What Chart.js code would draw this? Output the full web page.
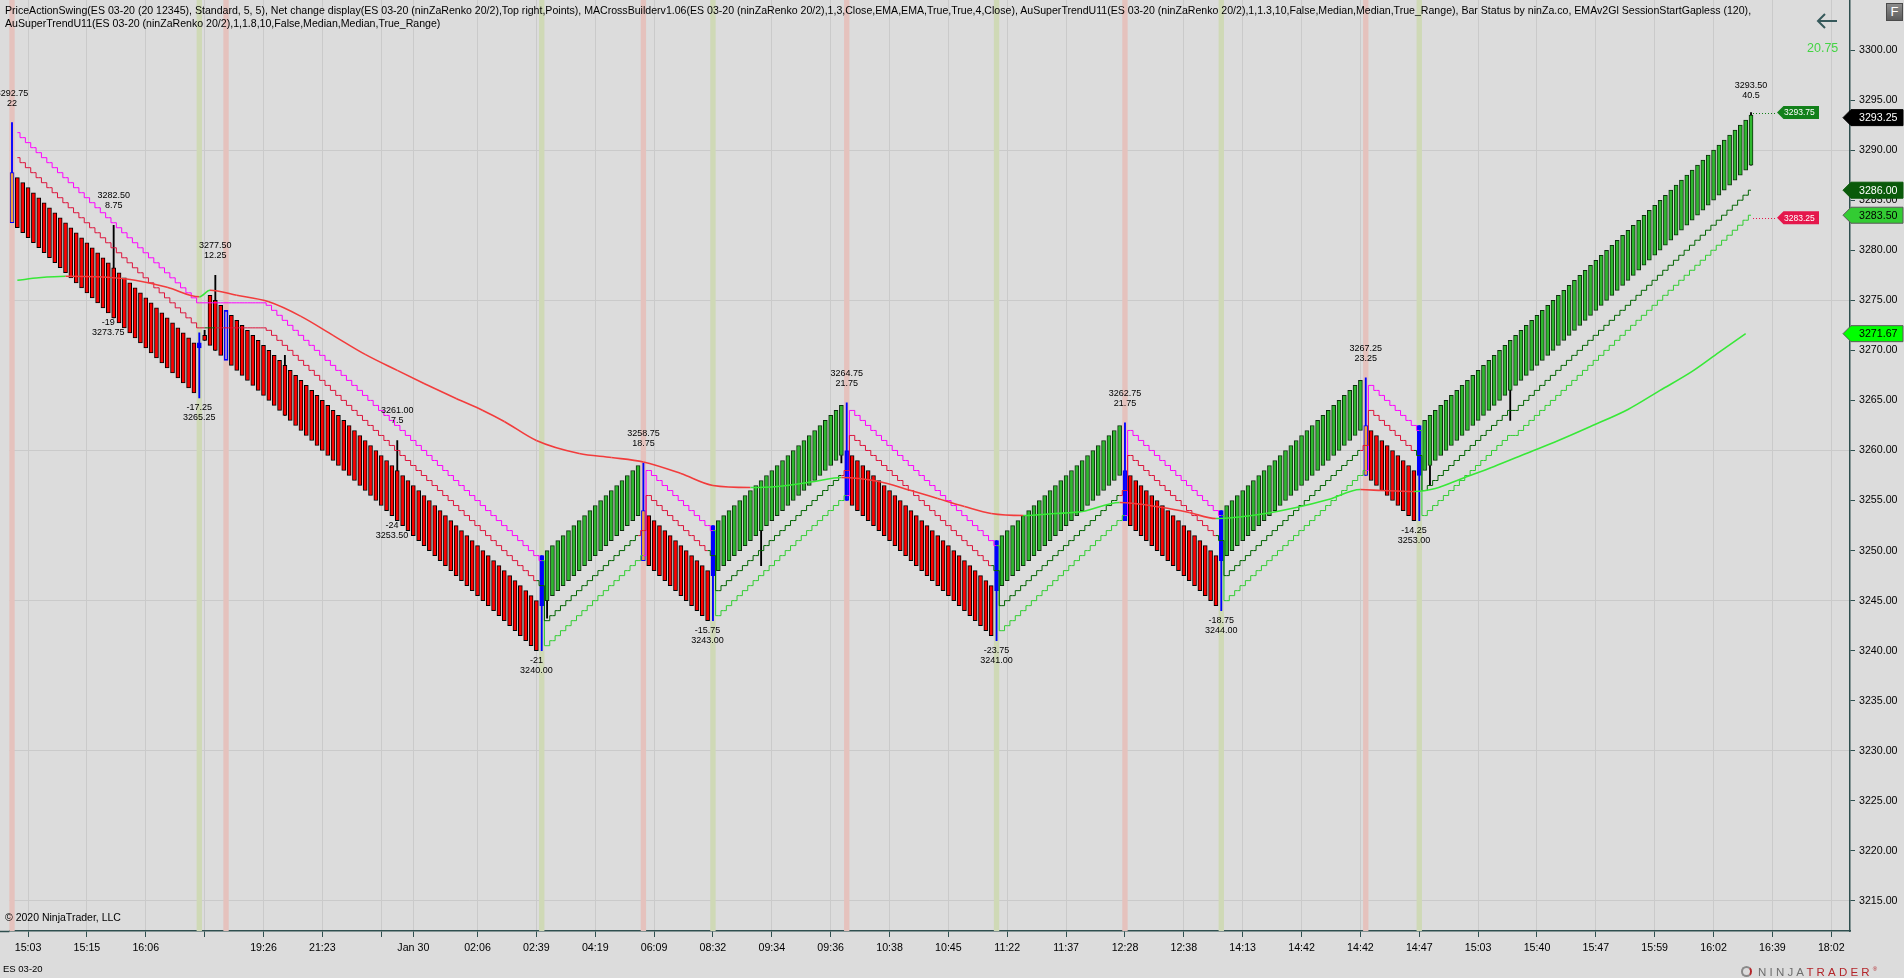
<!DOCTYPE html>
<html lang="en">
<head>
<meta charset="utf-8">
<title>ES 03-20 ninZaRenko 20/2</title>
<script src="https://cdn.jsdelivr.net/npm/chart.js@4.4.1/dist/chart.umd.min.js"></script>
<style>
  html, body { margin: 0; padding: 0; background: #dcdcdc; overflow: hidden; }
  #wrap { position: relative; width: 1904px; height: 978px; font-family: "Liberation Sans", Arial, sans-serif; color: #000; }
  #chart { position: absolute; left: 0; top: 0; }
  .t { position: absolute; white-space: nowrap; }
  #hdr { left: 5px; top: 4px; font-size: 10.58px; line-height: 13px; }
  #copy { left: 5px; top: 911px; font-size: 10.5px; line-height: 13px; }
  #sym { left: 3px; top: 963px; font-size: 9.5px; line-height: 12px; }
  #chg { left: 1807px; top: 41px; font-size: 12.5px; line-height: 15px; color: #44d444; }
  #fbtn { left: 1886px; top: 3px; width: 15px; height: 16px; border: 1px solid #4a4a4a;
          background: linear-gradient(#8c8c8c, #5c5c5c); color: #fff; font-size: 13px;
          line-height: 16px; text-align: center; }
  #logo { left: 1741px; top: 962px; font-size: 11.5px; line-height: 14px; letter-spacing: 3.2px; }
  #logo .ico { display: inline-block; width: 11px; height: 11px; border-radius: 50%;
               border: 2px solid #8a8a8a; border-right-color: #b3262b; box-sizing: border-box;
               vertical-align: -1px; margin-right: 6px; }
  #logo .n { color: #6e6e6e; }
  #logo .r { color: #b3262b; }
  #logo sup { font-size: 6px; letter-spacing: 0; }
</style>
</head>
<body>
<div id="wrap">
  <canvas id="chart" width="1904" height="978"></canvas>
  <div class="t" id="hdr">PriceActionSwing(ES 03-20 (20 12345), Standard, 5, 5), Net change display(ES 03-20 (ninZaRenko 20/2),Top right,Points), MACrossBuilderv1.06(ES 03-20 (ninZaRenko 20/2),1,3,Close,EMA,EMA,True,True,4,Close), AuSuperTrendU11(ES 03-20 (ninZaRenko 20/2),1,1.3,10,False,Median,Median,True_Range), Bar Status by ninZa.co, EMAv2Gl SessionStartGapless (120),<br>AuSuperTrendU11(ES 03-20 (ninZaRenko 20/2),1,1.8,10,False,Median,Median,True_Range)</div>
  <div class="t" id="copy">© 2020 NinjaTrader, LLC</div>
  <div class="t" id="sym">ES 03-20</div>
  <div class="t" id="chg">20.75</div>
  <div class="t" id="fbtn">F</div>
  <div class="t" id="logo"><span class="ico"></span><span class="n">NINJA</span><span class="r">TRADER</span><sup class="r">®</sup></div>
</div>
<script>
// renko bricks, one entry per bar (body top / body bottom)
const brickHigh = [3287.75,
  3287.25,3286.75,3286.25,3285.75,3285.25,3284.75,3284.25,3283.75,3283.25,3282.75,
  3282.25,3281.75,3281.25,3280.75,3280.25,3279.75,3279.25,3278.75,3278.25,3277.75,
  3277.25,3276.75,3276.25,3275.75,3275.25,3274.75,3274.25,3273.75,3273.25,3272.75,
  3272.25,3271.75,3271.25,3270.75,
  3270.75,3271.5,3275.5,3275,3274.5,3274,
  3273.5,3273,3272.5,3272,3271.5,3271,3270.5,3270,3269.5,3269,
  3268.5,3268,3267.5,3267,3266.5,3266,3265.5,3265,3264.5,3264,
  3263.5,3263,3262.5,3262,3261.5,3261,3260.5,3260,3259.5,3259,
  3258.5,3258,3257.5,3257,3256.5,3256,3255.5,3255,3254.5,3254,
  3253.5,3253,3252.5,3252,3251.5,3251,3250.5,3250,3249.5,3249,
  3248.5,3248,3247.5,3247,3246.5,3246,3245.5,3245,
  3249.5,
  3250,3250.5,3251,3251.5,3252,3252.5,3253,3253.5,3254,3254.5,
  3255,3255.5,3256,3256.5,3257,3257.5,3258,3258.5,
  3254,
  3253.5,3253,3252.5,3252,3251.5,3251,3250.5,3250,3249.5,3249,3248.5,3248,
  3252.5,
  3253,3253.5,3254,3254.5,3255,3255.5,3256,3256.5,3257,3257.5,
  3258,3258.5,3259,3259.5,3260,3260.5,3261,3261.5,3262,3262.5,
  3263,3263.5,3264,3264.5,
  3260,
  3259.5,3259,3258.5,3258,3257.5,3257,3256.5,3256,3255.5,3255,
  3254.5,3254,3253.5,3253,3252.5,3252,3251.5,3251,3250.5,3250,
  3249.5,3249,3248.5,3248,3247.5,3247,3246.5,
  3251,
  3251.5,3252,3252.5,3253,3253.5,3254,3254.5,3255,3255.5,3256,
  3256.5,3257,3257.5,3258,3258.5,3259,3259.5,3260,3260.5,3261,
  3261.5,3262,3262.5,
  3258,
  3257.5,3257,3256.5,3256,3255.5,3255,3254.5,3254,3253.5,3253,
  3252.5,3252,3251.5,3251,3250.5,3250,3249.5,
  3254,
  3254.5,3255,3255.5,3256,3256.5,3257,3257.5,3258,3258.5,3259,
  3259.5,3260,3260.5,3261,3261.5,3262,3262.5,3263,3263.5,3264,
  3264.5,3265,3265.5,3266,3266.5,3267,
  3262.5,
  3262,3261.5,3261,3260.5,3260,3259.5,3259,3258.5,3258,
  3262.5,
  3263,3263.5,3264,3264.5,3265,3265.5,3266,3266.5,3267,3267.5,
  3268,3268.5,3269,3269.5,3270,3270.5,3271,3271.5,3272,3272.5,
  3273,3273.5,3274,3274.5,3275,3275.5,3276,3276.5,3277,3277.5,
  3278,3278.5,3279,3279.5,3280,3280.5,3281,3281.5,3282,3282.5,
  3283,3283.5,3284,3284.5,3285,3285.5,3286,3286.5,3287,3287.5,
  3288,3288.5,3289,3289.5,3290,3290.5,3291,3291.5,3292,3292.5,
  3293,3293.5];

const brickLow = [3282.75,
  3282.25,3281.75,3281.25,3280.75,3280.25,3279.75,3279.25,3278.75,3278.25,3277.75,
  3277.25,3276.75,3276.25,3275.75,3275.25,3274.75,3274.25,3273.75,3273.25,3272.75,
  3272.25,3271.75,3271.25,3270.75,3270.25,3269.75,3269.25,3268.75,3268.25,3267.75,
  3267.25,3266.75,3266.25,3265.75,
  3270.25,3271,3270.5,3270,3269.5,3269,
  3268.5,3268,3267.5,3267,3266.5,3266,3265.5,3265,3264.5,3264,
  3263.5,3263,3262.5,3262,3261.5,3261,3260.5,3260,3259.5,3259,
  3258.5,3258,3257.5,3257,3256.5,3256,3255.5,3255,3254.5,3254,
  3253.5,3253,3252.5,3252,3251.5,3251,3250.5,3250,3249.5,3249,
  3248.5,3248,3247.5,3247,3246.5,3246,3245.5,3245,3244.5,3244,
  3243.5,3243,3242.5,3242,3241.5,3241,3240.5,3240,
  3244.5,
  3245,3245.5,3246,3246.5,3247,3247.5,3248,3248.5,3249,3249.5,
  3250,3250.5,3251,3251.5,3252,3252.5,3253,3253.5,
  3249,
  3248.5,3248,3247.5,3247,3246.5,3246,3245.5,3245,3244.5,3244,3243.5,3243,
  3247.5,
  3248,3248.5,3249,3249.5,3250,3250.5,3251,3251.5,3252,3252.5,
  3253,3253.5,3254,3254.5,3255,3255.5,3256,3256.5,3257,3257.5,
  3258,3258.5,3259,3259.5,
  3255,
  3254.5,3254,3253.5,3253,3252.5,3252,3251.5,3251,3250.5,3250,
  3249.5,3249,3248.5,3248,3247.5,3247,3246.5,3246,3245.5,3245,
  3244.5,3244,3243.5,3243,3242.5,3242,3241.5,
  3246,
  3246.5,3247,3247.5,3248,3248.5,3249,3249.5,3250,3250.5,3251,
  3251.5,3252,3252.5,3253,3253.5,3254,3254.5,3255,3255.5,3256,
  3256.5,3257,3257.5,
  3253,
  3252.5,3252,3251.5,3251,3250.5,3250,3249.5,3249,3248.5,3248,
  3247.5,3247,3246.5,3246,3245.5,3245,3244.5,
  3249,
  3249.5,3250,3250.5,3251,3251.5,3252,3252.5,3253,3253.5,3254,
  3254.5,3255,3255.5,3256,3256.5,3257,3257.5,3258,3258.5,3259,
  3259.5,3260,3260.5,3261,3261.5,3262,
  3257.5,
  3257,3256.5,3256,3255.5,3255,3254.5,3254,3253.5,3253,
  3257.5,
  3258,3258.5,3259,3259.5,3260,3260.5,3261,3261.5,3262,3262.5,
  3263,3263.5,3264,3264.5,3265,3265.5,3266,3266.5,3267,3267.5,
  3268,3268.5,3269,3269.5,3270,3270.5,3271,3271.5,3272,3272.5,
  3273,3273.5,3274,3274.5,3275,3275.5,3276,3276.5,3277,3277.5,
  3278,3278.5,3279,3279.5,3280,3280.5,3281,3281.5,3282,3282.5,
  3283,3283.5,3284,3284.5,3285,3285.5,3286,3286.5,3287,3287.5,
  3288,3288.5];

// wicks that stick out of the bodies
const wickIdx  = [0, 19, 35, 36, 38, 51, 72, 99, 100, 118, 131, 140, 155, 156, 184, 208, 226, 253, 263, 265, 280, 325];
const wickLow  = [3282.75, 3273.25, 3265.25, 3271, 3270, 3263.5, 3253, 3240, 3243.25, 3249, 3243, 3248.5, 3258.75, 3255, 3241, 3253, 3244, 3257.5, 3253, 3256.5, 3263, 3288.5];
const wickHigh = [3292.75, 3282.5, 3271.75, 3272, 3277.5, 3269.5, 3261, 3249.5, 3245, 3258.75, 3252.5, 3252, 3259.5, 3264.75, 3251, 3262.75, 3254, 3267.25, 3262.5, 3258.5, 3266, 3293.75];

// bar status signal bars
const signalHighIdx = [0, 40, 118, 156, 208, 253];
const signalLowIdx  = [35, 99, 131, 184, 226, 263];
const orangeIdx     = [0, 118, 253];

// AuSuperTrendU11 1.3 (fast) and 1.8 (slow)
const stFast = [null,
  3289.25,3288.75,3288.25,3287.75,3287.25,3286.75,3286.25,3285.75,3285.25,3284.75,
  3284.25,3283.75,3283.25,3282.75,3282.25,3281.75,3281.25,3280.75,3280.25,3279.75,
  3279.25,3278.75,3278.25,3277.75,3277.25,3276.75,3276.25,3275.75,3275.25,3274.75,
  3274.25,3273.75,3273.25,3272.75,
  3272.25,3272.25,3272.25,3272.25,3272.25,3272.25,3272.25,3272.25,3272.25,3272.25,
  3272.25,3272.25,3272.25,
  3272,3271.5,3271,3270.5,3270,3269.5,3269,3268.5,3268,3267.5,
  3267,3266.5,3266,3265.5,3265,3264.5,3264,3263.5,3263,3262.5,
  3262,3261.5,3261,3260.5,3260,3259.5,3259,3258.5,3258,3257.5,
  3257,3256.5,3256,3255.5,3255,3254.5,3254,3253.5,3253,3252.5,
  3252,3251.5,3251,3250.5,3250,3249.5,3249,3248.5,3248,3247.5,
  3247,
  3246.5,
  3243,3243.5,3244,3244.5,3245,3245.5,3246,3246.5,3247,3247.5,
  3248,3248.5,3249,3249.5,3250,3250.5,3251,3251.5,
  3252,
  3255.5,3255,3254.5,3254,3253.5,3253,3252.5,3252,3251.5,3251,3250.5,3250,
  3249.5,
  3246,3246.5,3247,3247.5,3248,3248.5,3249,3249.5,3250,3250.5,
  3251,3251.5,3252,3252.5,3253,3253.5,3254,3254.5,3255,3255.5,
  3256,3256.5,3257,3257.5,
  3258,
  3261.5,3261,3260.5,3260,3259.5,3259,3258.5,3258,3257.5,3257,
  3256.5,3256,3255.5,3255,3254.5,3254,3253.5,3253,3252.5,3252,
  3251.5,3251,3250.5,3250,3249.5,3249,3248.5,
  3248,
  3244.5,3245,3245.5,3246,3246.5,3247,3247.5,3248,3248.5,3249,
  3249.5,3250,3250.5,3251,3251.5,3252,3252.5,3253,3253.5,3254,
  3254.5,3255,3255.5,
  3256,
  3259.5,3259,3258.5,3258,3257.5,3257,3256.5,3256,3255.5,3255,
  3254.5,3254,3253.5,3253,3252.5,3252,3251.5,
  3251,
  3247.5,3248,3248.5,3249,3249.5,3250,3250.5,3251,3251.5,3252,
  3252.5,3253,3253.5,3254,3254.5,3255,3255.5,3256,3256.5,3257,
  3257.5,3258,3258.5,3259,3259.5,3260,
  3260.5,
  3264,3263.5,3263,3262.5,3262,3261.5,3261,3260.5,3260,
  3259.5,
  3256,3256.5,3257,3257.5,3258,3258.5,3259,3259.5,3260,3260.5,
  3261,3261.5,3262,3262.5,3263,3263.5,3264,3264,3264.5,3265,
  3265.5,3266,3266.5,3267,3267.5,3268,3268.5,3269,3269.5,3270,
  3270.5,3271,3271.5,3272,3272.5,3273,3273.5,3274,3274.5,3275,
  3275.5,3276,3276.5,3277,3277.5,3278,3278.5,3279,3279.5,3280,
  3280.5,3281,3281.5,3282,3282.5,3283,3283.5,3284,3284.5,3285,
  3285.5,3286];

const stSlow = [null,
  3291.75,3291.25,3290.75,3290.25,3289.75,3289.25,3288.75,3288.25,3287.75,3287.25,
  3286.75,3286.25,3285.75,3285.25,3284.75,3284.25,3283.75,3283.25,3282.75,3282.25,
  3281.75,3281.25,3280.75,3280.25,3279.75,3279.25,3278.75,3278.25,3277.75,3277.25,
  3276.75,3276.25,3275.75,3275.25,
  3274.75,3274.75,3274.75,3274.75,3274.75,3274.75,3274.75,3274.75,3274.75,3274.75,
  3274.75,3274.75,3274.75,
  3274.5,3274,3273.5,3273,3272.5,3272,3271.5,3271,3270.5,3270,
  3269.5,3269,3268.5,3268,3267.5,3267,3266.5,3266,3265.5,3265,
  3264.5,3264,3263.5,3263,3262.5,3262,3261.5,3261,3260.5,3260,
  3259.5,3259,3258.5,3258,3257.5,3257,3256.5,3256,3255.5,3255,
  3254.5,3254,3253.5,3253,3252.5,3252,3251.5,3251,3250.5,3250,
  3249.5,
  3249,
  3240.5,3241,3241.5,3242,3242.5,3243,3243.5,3244,3244.5,3245,
  3245.5,3246,3246.5,3247,3247.5,3248,3248.5,3249,
  3249.5,
  3258,3257.5,3257,3256.5,3256,3255.5,3255,3254.5,3254,3253.5,3253,3252.5,
  3252,
  3243.5,3244,3244.5,3245,3245.5,3246,3246.5,3247,3247.5,3248,
  3248.5,3249,3249.5,3250,3250.5,3251,3251.5,3252,3252.5,3253,
  3253.5,3254,3254.5,3255,
  3255.5,
  3264,3263.5,3263,3262.5,3262,3261.5,3261,3260.5,3260,3259.5,
  3259,3258.5,3258,3257.5,3257,3256.5,3256,3255.5,3255,3254.5,
  3254,3253.5,3253,3252.5,3252,3251.5,3251,
  3250.5,
  3242,3242.5,3243,3243.5,3244,3244.5,3245,3245.5,3246,3246.5,
  3247,3247.5,3248,3248.5,3249,3249.5,3250,3250.5,3251,3251.5,
  3252,3252.5,3253,
  3253.5,
  3262,3261.5,3261,3260.5,3260,3259.5,3259,3258.5,3258,3257.5,
  3257,3256.5,3256,3255.5,3255,3254.5,3254,
  3253.5,
  3245,3245.5,3246,3246.5,3247,3247.5,3248,3248.5,3249,3249.5,
  3250,3250.5,3251,3251.5,3252,3252.5,3253,3253.5,3254,3254.5,
  3255,3255.5,3256,3256.5,3257,3257.5,
  3258,
  3266.5,3266,3265.5,3265,3264.5,3264,3263.5,3263,3262.5,
  3262,
  3253.5,3254,3254.5,3255,3255.5,3256,3256.5,3257,3257.5,3258,
  3258.5,3259,3259.5,3260,3260.5,3261,3261.5,3261.5,3262,3262.5,
  3263,3263.5,3264,3264.5,3265,3265.5,3266,3266.5,3267,3267.5,
  3268,3268.5,3269,3269.5,3270,3270.5,3271,3271.5,3272,3272.5,
  3273,3273.5,3274,3274.5,3275,3275.5,3276,3276.5,3277,3277.5,
  3278,3278.5,3279,3279.5,3280,3280.5,3281,3281.5,3282,3282.5,
  3283,3283.5];

// EMAv2Gl SessionStartGapless (120), read at these bars
const emaIdx = [1,5,10,16,23,29,35,37,42,48,54,60,66,72,77,83,88,92,98,106,
  112,118,125,131,138,143,150,155,162,168,173,178,183,189,195,200,207,215,220,225,
  233,240,246,252,256,262,266,271,277,283,289,295,302,308,314,319,324];
const emaVal = [3277.0,3277.25,3277.4,3277.35,3277.0,3276.3,3275.35,3276.0,3275.5,3274.85,
  3273.4,3271.5,3269.6,3268.0,3266.7,3265.2,3264.0,3262.9,3261.0,3259.7,
  3259.3,3258.85,3257.7,3256.5,3256.3,3256.4,3256.9,3257.3,3256.9,3256.0,
  3255.2,3254.4,3253.7,3253.5,3253.7,3253.9,3254.8,3254.3,3253.8,3253.2,
  3253.6,3254.3,3255.1,3256.1,3256.0,3255.9,3256.2,3257.2,3258.4,3259.7,
  3261.0,3262.4,3264.1,3266.0,3267.9,3269.8,3271.67];

// PriceActionSwing labels
const swingHighIdx   = [0, 19, 38, 72, 118, 156, 208, 253, 325];
const swingHighPrice = [3292.75, 3282.50, 3277.50, 3261.00, 3258.75, 3264.75, 3262.75, 3267.25, 3293.50];
const swingHighSize  = [22, 8.75, 12.25, 7.5, 18.75, 21.75, 21.75, 23.25, 40.5];
const swingLowIdx    = [18, 35, 71, 98, 130, 184, 226, 262];
const swingLowPrice  = [3273.75, 3265.25, 3253.50, 3240.00, 3243.00, 3241.00, 3244.00, 3253.00];
const swingLowSize   = [-19, -17.25, -24, -21, -15.75, -23.75, -18.75, -14.25];

// axis
const slotCount = 344;
const xTickIdx = [3, 14, 25, 47, 58, 75, 87, 98, 109, 120, 131, 142, 153, 164, 175,
  186, 197, 208, 219, 230, 241, 252, 263, 274, 285, 296, 307, 318, 329, 340];
const xTickText = ['15:03','15:15','16:06','19:26','21:23','Jan 30','02:06','02:39','04:19','06:09','08:32','09:34','09:36','10:38','10:45',
  '11:22','11:37','12:28','12:38','14:13','14:42','14:42','14:47','15:03','15:40','15:47','15:59','16:02','16:39','18:02'];
const xGridOnly = [36, 69];
const yTickVals = [3215,3220,3225,3230,3235,3240,3245,3250,3255,3260,3265,3270,3275,3280,3285,3290,3295,3300];

// price tags
const axisTagVal  = [3293.25, 3286.00, 3283.50, 3271.67];
const rightTagVal = [3293.75, 3283.25];

const FONT = '"Liberation Sans", Arial, sans-serif';
const categories = Array.from({length: slotCount}, (_, i) => {
  const k = xTickIdx.indexOf(i);
  return k >= 0 ? xTickText[k] : '';
});
const gridIdx = xTickIdx.concat(xGridOnly);

// category scale reads data by position, so spread the sparse lists over the bars
const wickData = brickHigh.map(() => null);
wickIdx.forEach((i, k) => { wickData[i] = [wickLow[k], wickHigh[k]]; });
const emaData = brickHigh.map(() => null);
emaIdx.forEach((i, k) => { emaData[i] = emaVal[k]; });

const mid = i => (brickHigh[i] + brickLow[i]) / 2;
const isDown = i => stSlow[i] !== null && stSlow[i] > mid(i);
const isSignal = i => signalLowIdx.includes(i) || signalHighIdx.includes(i);
const emaFalling = i => { const k = emaIdx.indexOf(i); return k > 0 && emaVal[k] < emaVal[k - 1]; };

const barFill = brickHigh.map((h, i) => {
  if (signalLowIdx.includes(i)) return '#0000ff';
  if (signalHighIdx.includes(i)) return orangeIdx.includes(i) ? '#f0a23c' : 'rgba(0,0,0,0)';
  return isDown(i) ? '#ff0000' : '#2fb82f';
});
const barEdge = brickHigh.map((h, i) => {
  if (isSignal(i)) return '#0000ff';
  return isDown(i) ? '#000000' : '#0c2e0c';
});

function drawTag(ctx, tipX, rightX, cy, h, fill, edge, text, color, font, textX) {
  ctx.beginPath();
  ctx.moveTo(tipX, cy);
  ctx.lineTo(tipX + h / 2, cy - h / 2);
  ctx.lineTo(rightX, cy - h / 2);
  ctx.lineTo(rightX, cy + h / 2);
  ctx.lineTo(tipX + h / 2, cy + h / 2);
  ctx.closePath();
  ctx.fillStyle = fill;
  ctx.fill();
  if (edge) { ctx.strokeStyle = edge; ctx.lineWidth = 1; ctx.stroke(); }
  ctx.fillStyle = color;
  ctx.font = font;
  ctx.textAlign = 'left';
  ctx.textBaseline = 'middle';
  ctx.fillText(text, textX, cy + 0.5);
}

const overlay = {
  id: 'overlay',
  beforeDraw(chart) {
    const ctx = chart.ctx;
    ctx.save();
    ctx.fillStyle = '#dcdcdc';
    ctx.fillRect(0, 0, chart.width, chart.height);
    ctx.restore();
  },
  beforeDatasetsDraw(chart) {
    const {ctx, chartArea: a, scales: {x}} = chart;
    const w = x.width / slotCount;
    ctx.save();
    ctx.fillStyle = '#e5c2bd';
    signalHighIdx.forEach(i => ctx.fillRect(x.getPixelForValue(i) - w / 2, a.top, w, a.bottom - a.top));
    ctx.fillStyle = '#cfd9b6';
    signalLowIdx.forEach(i => ctx.fillRect(x.getPixelForValue(i) - w / 2, a.top, w, a.bottom - a.top));
    ctx.restore();
  },
  afterDatasetsDraw(chart) {
    const {ctx, scales: {x, y}} = chart;
    ctx.save();
    ctx.font = '9px ' + FONT;
    ctx.fillStyle = '#000';
    ctx.textAlign = 'center';
    ctx.textBaseline = 'middle';
    swingHighIdx.forEach((i, k) => {
      const px = x.getPixelForValue(i), py = y.getPixelForValue(swingHighPrice[k]);
      ctx.fillText(swingHighPrice[k].toFixed(2), px, py - 29.5);
      ctx.fillText(String(swingHighSize[k]), px, py - 19.5);
    });
    swingLowIdx.forEach((i, k) => {
      const px = x.getPixelForValue(i), py = y.getPixelForValue(swingLowPrice[k]);
      ctx.fillText(String(swingLowSize[k]), px, py + 9.5);
      ctx.fillText(swingLowPrice[k].toFixed(2), px, py + 19.5);
    });
    // net change tags right of the last bar
    const lastX = x.getPixelForValue(brickHigh.length - 1) + 2;
    const rightColors = ['#12801a', '#e5174c'];
    rightTagVal.forEach((v, k) => {
      const py = y.getPixelForValue(v);
      ctx.setLineDash([1, 2]);
      ctx.strokeStyle = rightColors[k];
      ctx.lineWidth = 1;
      ctx.beginPath();
      ctx.moveTo(lastX, Math.round(py) + 0.5);
      ctx.lineTo(1777, Math.round(py) + 0.5);
      ctx.stroke();
      ctx.setLineDash([]);
      drawTag(ctx, 1777, 1819, py, 13, rightColors[k], null, v.toFixed(2), '#ffffff', '8.5px ' + FONT, 1784);
    });
    ctx.restore();
  },
  afterDraw(chart) {
    const {ctx, chartArea: a, scales: {y}} = chart;
    ctx.save();
    // extend time axis line to the left edge
    ctx.strokeStyle = '#2f4f4f';
    ctx.lineWidth = 1.5;
    ctx.beginPath();
    ctx.moveTo(0, a.bottom + 0.5);
    ctx.lineTo(a.left, a.bottom + 0.5);
    ctx.stroke();
    // price markers on the axis
    const fills = ['#000000', '#0a5a0a', '#33cc33', '#00ff00'];
    const edges = ['#000000', '#0a5a0a', '#5a5a5a', '#5a5a5a'];
    const texts = ['#ffffff', '#ffffff', '#000000', '#000000'];
    axisTagVal.forEach((v, k) => {
      drawTag(ctx, 1843, 1903, y.getPixelForValue(v), 16, fills[k], edges[k], v.toFixed(2), texts[k], '10.67px ' + FONT, 1859);
    });
    // back arrow
    ctx.strokeStyle = '#36595b';
    ctx.lineWidth = 2;
    ctx.beginPath();
    ctx.moveTo(1837, 21); ctx.lineTo(1818, 21);
    ctx.moveTo(1825, 14); ctx.lineTo(1818, 21); ctx.lineTo(1825, 28);
    ctx.stroke();
    ctx.restore();
  }
};

new Chart(document.getElementById('chart'), {
  type: 'bar',
  data: {
    labels: categories,
    datasets: [
      {
        type: 'line', label: 'EMA 120', order: 0,
        data: emaData, spanGaps: true,
        borderWidth: 1.6, pointRadius: 0, cubicInterpolationMode: 'monotone',
        borderColor: '#f23c3c',
        segment: { borderColor: c => emaFalling(c.p1DataIndex) ? '#f23c3c' : '#38e838' }
      },
      {
        type: 'line', label: 'SuperTrend 1.3', order: 1,
        data: stFast, stepped: 'middle', borderWidth: 1, pointRadius: 0,
        borderColor: '#dc143c',
        segment: { borderColor: c => stFast[c.p1DataIndex] > mid(c.p1DataIndex) ? '#dc143c' : '#006400' }
      },
      {
        type: 'line', label: 'SuperTrend 1.8', order: 2,
        data: stSlow, stepped: 'middle', borderWidth: 1, pointRadius: 0,
        borderColor: '#ff00ff',
        segment: { borderColor: c => stSlow[c.p1DataIndex] > mid(c.p1DataIndex) ? '#ff00ff' : '#32cd32' }
      },
      {
        type: 'bar', label: 'bricks', order: 3, grouped: false,
        data: brickHigh.map((h, i) => [brickLow[i], h]),
        backgroundColor: barFill, borderColor: barEdge,
        borderWidth: 1, borderSkipped: false, barThickness: 4
      },
      {
        type: 'bar', label: 'wicks', order: 4, grouped: false,
        data: wickData,
        backgroundColor: brickHigh.map((h, i) => isSignal(i) ? '#0000ff' : '#000000'),
        borderWidth: 0, barThickness: 1.2
      }
    ]
  },
  options: {
    responsive: false,
    animation: false,
    devicePixelRatio: 1,
    layout: { padding: { left: 9.33, right: 0, top: 0, bottom: 0 } },
    plugins: { legend: { display: false }, tooltip: { enabled: false } },
    scales: {
      x: {
        type: 'category',
        offset: true,
        afterFit: s => { s.height = 47; s.paddingLeft = 0; s.paddingRight = 0; },
        grid: {
          offset: false,
          color: c => gridIdx.includes(c.index) ? '#cacaca' : 'rgba(0,0,0,0)',
          tickColor: c => gridIdx.includes(c.index) ? '#2f4f4f' : 'rgba(0,0,0,0)',
          tickLength: 6
        },
        border: { color: '#2f4f4f', width: 1.5 },
        ticks: { autoSkip: false, maxRotation: 0, minRotation: 0, color: '#000', padding: 5,
                 font: { family: FONT, size: 10.67 } }
      },
      y: {
        position: 'right',
        min: 3212, max: 3305,
        afterBuildTicks: s => { s.ticks = yTickVals.map(v => ({value: v})); },
        afterFit: s => { s.width = 54; s.paddingTop = 0; s.paddingBottom = 0; },
        grid: {
          color: c => (c.tick && (c.tick.value - 3215) % 15 === 0) ? '#cacaca' : 'rgba(0,0,0,0)',
          tickColor: '#2f4f4f',
          tickLength: 5
        },
        border: { color: '#2f4f4f', width: 1.5 },
        ticks: { color: '#000', padding: 4, font: { family: FONT, size: 10.67 },
                 callback: v => Number(v).toFixed(2) }
      }
    }
  },
  plugins: [overlay]
});
</script>
</body>
</html>
